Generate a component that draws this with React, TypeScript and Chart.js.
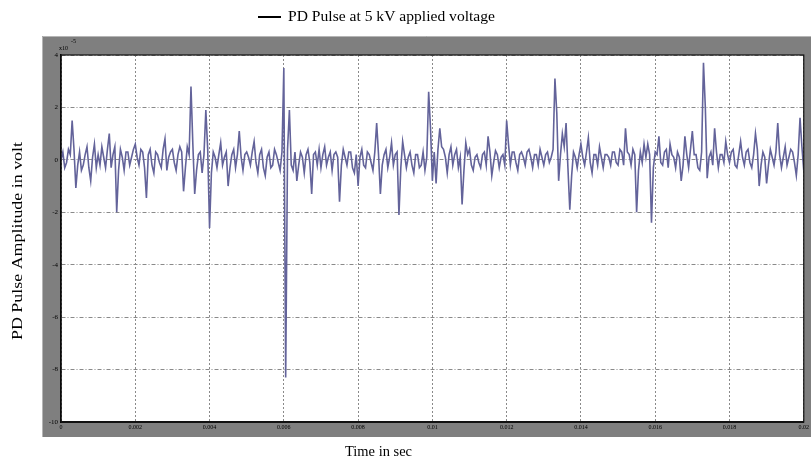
import React, { useEffect, useRef } from 'react';
import { Chart, registerables } from 'chart.js';

Chart.register(...registerables);

const seriesLabel = 'PD Pulse at 5 kV applied voltage';
const xAxisTitle = 'Time in sec';
const yAxisTitle = 'PD Pulse Amplitude in volt';
const yExponentBase = 'x10';
const yExponent = '-5';

// sampling step of the recorded pulse (seconds)
const sampleStep = 0.00005;

// PD pulse amplitude, in units of 1e-5 V, one value per sample
const pulseAmplitude: number[] = [
  0.0, 0.3, -0.3, -0.1, 0.4, 0.2, 1.5, 0.4, -1.07, -0.2,
  0.3, -0.4, -0.2, 0.2, 0.5, -0.3, -0.8, 0.1, 0.6, -0.3,
  0.2, -0.2, 0.5, 0.1, -0.3, 0.4, 1.0, -0.3, 0.2, 0.5,
  -2.0, -0.4, 0.4, 0.1, -0.4, 0.3, 0.3, -0.2, 0.1, 0.4,
  0.6, 0.1, -0.2, 0.4, 0.3, -0.3, -1.45, 0.2, 0.4, -0.2,
  -0.5, 0.3, 0.2, -0.1, -0.3, 0.4, 0.8, -0.4, 0.1, 0.3,
  0.4, -0.1, -0.4, 0.2, 0.5, 0.3, -1.2, -0.3, 0.5, 0.2,
  2.8, 0.6, -1.3, -0.4, 0.2, 0.3, -0.5, 0.2, 1.9, 0.4,
  -2.6, -0.5, 0.3, 0.1, -0.3, 0.2, 0.65, -0.2, 0.1, 0.3,
  -1.0, -0.3, 0.2, 0.4, -0.3, 0.2, 1.1, 0.1, -0.4, 0.2,
  0.3, 0.1, -0.2, 0.3, 0.7, -0.1, -0.5, 0.2, 0.4, -0.3,
  -0.6, 0.1, 0.3, -0.3, -0.2, 0.4, 0.2, -0.1, -0.4, 0.3,
  3.5, -8.3, 0.4, 1.9, -0.2, -0.4, 0.3, -0.8, -0.2, 0.3,
  0.1, -0.5, 0.2, 0.4, -0.1, -1.3, 0.2, 0.3, -0.2, 0.4,
  -0.3, 0.2, 0.5, -0.2, 0.1, 0.3, -0.4, 0.2, 0.3, 0.1,
  -1.6, -0.2, 0.4, 0.1, -0.2, 0.3, 0.3, -0.3, -0.5, 0.2,
  -1.0, 0.1, 0.4, -0.2, -0.3, 0.3, 0.2, -0.1, -0.4, 0.3,
  1.4, 0.2, -1.3, -0.2, 0.2, 0.4, -0.3, 0.1, 0.65, -0.2,
  0.2, 0.3, -2.1, -0.3, 0.7, 0.2, -0.3, 0.1, 0.3, -0.2,
  -0.5, 0.2, 0.2, -0.3, -0.2, 0.3, -0.4, 0.1, 2.6, 1.2,
  -0.8, 0.3, -0.9, 0.4, 1.2, 0.5, 0.4, 0.1, -0.5, 0.2,
  0.5, -0.2, 0.2, 0.4, -0.3, 0.1, -1.7, -0.4, 0.65, 0.2,
  0.4, -0.2, -0.4, 0.1, 0.2, -0.1, -0.3, 0.2, 0.3, -0.2,
  0.9, 0.3, -0.6, -0.1, 0.35, 0.2, -0.3, 0.1, 0.2, -0.2,
  1.5, 0.6, -0.2, 0.3, 0.3, -0.1, -0.4, 0.2, 0.3, 0.1,
  -0.2, 0.3, 0.4, 0.1, -0.3, 0.2, 0.2, -0.2, 0.4, 0.1,
  -0.2, 0.2, 0.3, -0.1, 0.1, 0.4, 3.1, 1.8, -0.8, 0.2,
  1.0, 0.5, 1.4, -0.3, -1.9, -0.6, 0.3, 0.1, -0.3, 0.2,
  0.6, 0.1, -0.2, 0.3, 0.85, -0.1, -0.5, 0.2, 0.2, -0.2,
  0.5, 0.1, -0.3, 0.2, 0.2, 0.1, -0.2, 0.3, 0.3, -0.1,
  -0.2, 0.4, 0.3, -0.2, 1.2, 0.3, 0.2, -0.2, 0.4, 0.2,
  -2.0, -0.4, 0.3, -0.1, 0.6, 0.1, 0.6, 0.2, -2.4, -0.3,
  0.3, 0.2, 0.9, -0.1, -0.2, 0.3, 0.4, -0.3, 0.6, 0.2,
  0.1, -0.3, 0.3, 0.1, -0.8, -0.2, 0.9, 0.2, -0.3, 0.4,
  1.1, 0.2, 0.2, -0.3, -0.4, 0.3, 3.7, 2.0, -0.7, 0.1,
  0.3, -0.2, 1.2, 0.3, -0.3, 0.2, 0.2, -0.1, 0.7, 0.2,
  -0.1, 0.3, 0.4, -0.2, -0.3, 0.2, 0.7, 0.1, -0.2, 0.3,
  0.4, -0.1, -0.3, 0.2, 1.0, 0.4, -1.0, -0.2, 0.3, 0.1,
  -0.9, -0.2, 0.4, 0.1, -0.2, 0.3, 1.4, 0.2, -0.3, 0.1,
  0.5, -0.2, 0.1, 0.4, 0.3, -0.1, -0.6, 0.2, 1.6, 0.5,
  -0.4,
];

const xTickValues = [0, 0.002, 0.004, 0.006, 0.008, 0.01, 0.012, 0.014, 0.016, 0.018, 0.02];
const xTickLabels = ['0', '0.002', '0.004', '0.006', '0.008', '0.01', '0.012', '0.014', '0.016', '0.018', '0.02'];
const yTickValues = [4, 2, 0, -2, -4, -6, -8, -10];

const SERIF = '"Liberation Serif", "DejaVu Serif", serif';

function fitText(ctx: CanvasRenderingContext2D, text: string, x: number, y: number, width: number) {
  const w = ctx.measureText(text).width;
  ctx.save();
  ctx.translate(x, y);
  ctx.scale(width / w, 1);
  ctx.fillText(text, 0, 0);
  ctx.restore();
}

const framePlugin = {
  id: 'matlabFrame',
  beforeDraw(chart: any) {
    const { ctx, chartArea } = chart;
    ctx.save();
    ctx.fillStyle = '#ffffff';
    ctx.fillRect(0, 0, chart.width, chart.height);
    // gray figure frame
    ctx.fillStyle = '#7f7f7f';
    ctx.fillRect(42, 36, chart.width - 42, 437 - 36);
    ctx.strokeStyle = '#b5b5b5';
    ctx.lineWidth = 1;
    ctx.beginPath();
    ctx.moveTo(42.5, 437);
    ctx.lineTo(42.5, 36.5);
    ctx.lineTo(chart.width, 36.5);
    ctx.stroke();
    ctx.fillStyle = '#ffffff';
    ctx.fillRect(chartArea.left, chartArea.top, chartArea.right - chartArea.left, chartArea.bottom - chartArea.top);
    ctx.restore();
  },
  afterDraw(chart: any) {
    const { ctx, chartArea } = chart;
    ctx.save();
    // axes box
    ctx.strokeStyle = '#111';
    ctx.lineWidth = 1.2;
    ctx.strokeRect(chartArea.left, chartArea.top, chartArea.right - chartArea.left, chartArea.bottom - chartArea.top);
    ctx.lineWidth = 2;
    ctx.beginPath();
    ctx.moveTo(chartArea.left, chartArea.bottom);
    ctx.lineTo(chartArea.right, chartArea.bottom);
    ctx.stroke();

    ctx.fillStyle = '#000';
    // exponent label
    ctx.font = `6px ${SERIF}`;
    ctx.textBaseline = 'middle';
    ctx.textAlign = 'left';
    ctx.fillText(yExponentBase, 59, 48);
    ctx.fillText(yExponent, 71, 41);

    // legend
    ctx.strokeStyle = '#000';
    ctx.lineWidth = 2;
    ctx.beginPath();
    ctx.moveTo(258, 17);
    ctx.lineTo(281, 17);
    ctx.stroke();
    ctx.font = `14px ${SERIF}`;
    ctx.textBaseline = 'middle';
    ctx.textAlign = 'left';
    fitText(ctx, seriesLabel, 288, 17, 207);

    // x title
    ctx.font = `14px ${SERIF}`;
    fitText(ctx, xAxisTitle, 345, 452, 67);

    // y title
    ctx.save();
    ctx.translate(18, 340);
    ctx.rotate(-Math.PI / 2);
    fitText(ctx, yAxisTitle, 0, 0, 198);
    ctx.restore();
    ctx.restore();
  },
};

export default function App() {
  const canvasRef = useRef<HTMLCanvasElement | null>(null);

  useEffect(() => {
    const canvas = canvasRef.current;
    if (!canvas) return;
    const points = pulseAmplitude.map((v, i) => ({ x: i * sampleStep, y: v }));
    const chart = new Chart(canvas, {
      type: 'line',
      data: {
        datasets: [
          {
            label: seriesLabel,
            data: points,
            borderColor: '#63639a',
            borderWidth: 1.6,
            pointRadius: 0,
            tension: 0,
            fill: false,
          },
        ],
      },
      options: {
        responsive: false,
        animation: false,
        devicePixelRatio: 1,
        layout: { padding: { top: 55, right: 4, left: 0, bottom: 0 } },
        plugins: {
          legend: { display: false },
          tooltip: { enabled: false },
          title: { display: false },
        },
        scales: {
          x: {
            type: 'linear',
            min: 0,
            max: 0.02,
            afterBuildTicks: (scale: any) => {
              scale.ticks = xTickValues.map((v) => ({ value: v }));
            },
            afterFit: (scale: any) => {
              scale.height = 39;
            },
            ticks: {
              autoSkip: false,
              maxRotation: 0,
              padding: 2,
              color: '#000',
              font: { size: 6, family: SERIF },
              callback: (value: any) => {
                const idx = xTickValues.findIndex((t) => Math.abs(t - Number(value)) < 1e-9);
                return idx >= 0 ? xTickLabels[idx] : '';
              },
            },
            grid: {
              color: '#8a8a8a',
              lineWidth: 1,
              drawTicks: false,
            },
            border: { display: true, color: '#000', width: 2, dash: [2, 2] },
          },
          y: {
            type: 'linear',
            min: -10,
            max: 4,
            afterBuildTicks: (scale: any) => {
              scale.ticks = yTickValues.map((v) => ({ value: v }));
            },
            afterFit: (scale: any) => {
              scale.width = 61;
            },
            ticks: {
              autoSkip: false,
              padding: 3,
              color: '#000',
              font: { size: 7, family: SERIF },
              callback: (value: any) => String(value),
            },
            grid: {
              color: '#8a8a8a',
              lineWidth: 1,
              drawTicks: false,
            },
            border: { display: true, color: '#000', width: 1.5, dash: [4, 2, 1, 2] },
          },
        },
      },
      plugins: [framePlugin],
    });
    return () => chart.destroy();
  }, []);

  return (
    <div style={{ position: 'fixed', left: 0, top: 0, width: 811, height: 461, background: '#fff' }}>
      <canvas ref={canvasRef} width={811} height={461} style={{ display: 'block' }} />
    </div>
  );
}
